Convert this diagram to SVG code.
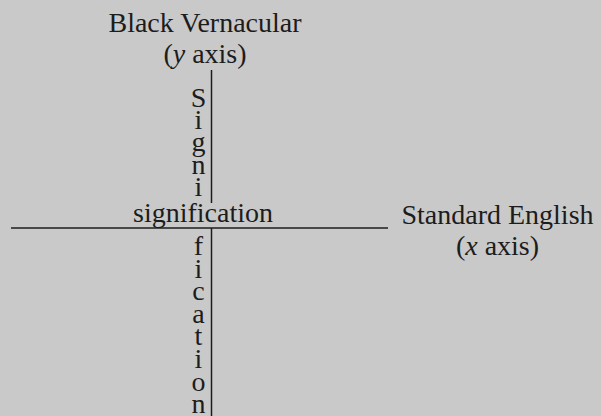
<svg xmlns="http://www.w3.org/2000/svg" width="601" height="416" viewBox="0 0 601 416">
<style>
text{font-family:"Liberation Serif","Times New Roman",serif;font-size:28px;fill:#1c1c1c;text-anchor:middle}
.ax{stroke:#1c1c1c;stroke-width:1.5;fill:none}
</style>
<rect width="601" height="416" fill="#c9c9c9"/>
<g id="connectors">
<line class="ax" x1="211.5" y1="70" x2="211.5" y2="203"/>
<line class="ax" x1="211.5" y1="228" x2="211.5" y2="416"/>
<line class="ax" x1="11" y1="228" x2="388" y2="228"/>
</g>
<g id="y-axis-label">
<text x="205" y="32">Black Vernacular</text>
<text x="205" y="63">(<tspan font-style="italic">y</tspan> axis)</text>
</g>
<g id="x-axis-label">
<text x="497.5" y="224">Standard English</text>
<text x="497.5" y="255">(<tspan font-style="italic">x</tspan> axis)</text>
</g>
<g id="signification-horizontal">
<text x="203" y="222">signification</text>
</g>
<g id="signification-vertical">
<text x="198.5" y="107">S</text>
<text x="198.5" y="128.6">i</text>
<text x="198.5" y="151.2">g</text>
<text x="198.5" y="173.8">n</text>
<text x="198.5" y="196.4">i</text>
<text x="198.5" y="255">f</text>
<text x="198.5" y="277.6">i</text>
<text x="198.5" y="300.2">c</text>
<text x="198.5" y="322.8">a</text>
<text x="198.5" y="345.4">t</text>
<text x="198.5" y="368">i</text>
<text x="198.5" y="390.6">o</text>
<text x="198.5" y="413.2">n</text>
</g>
</svg>
